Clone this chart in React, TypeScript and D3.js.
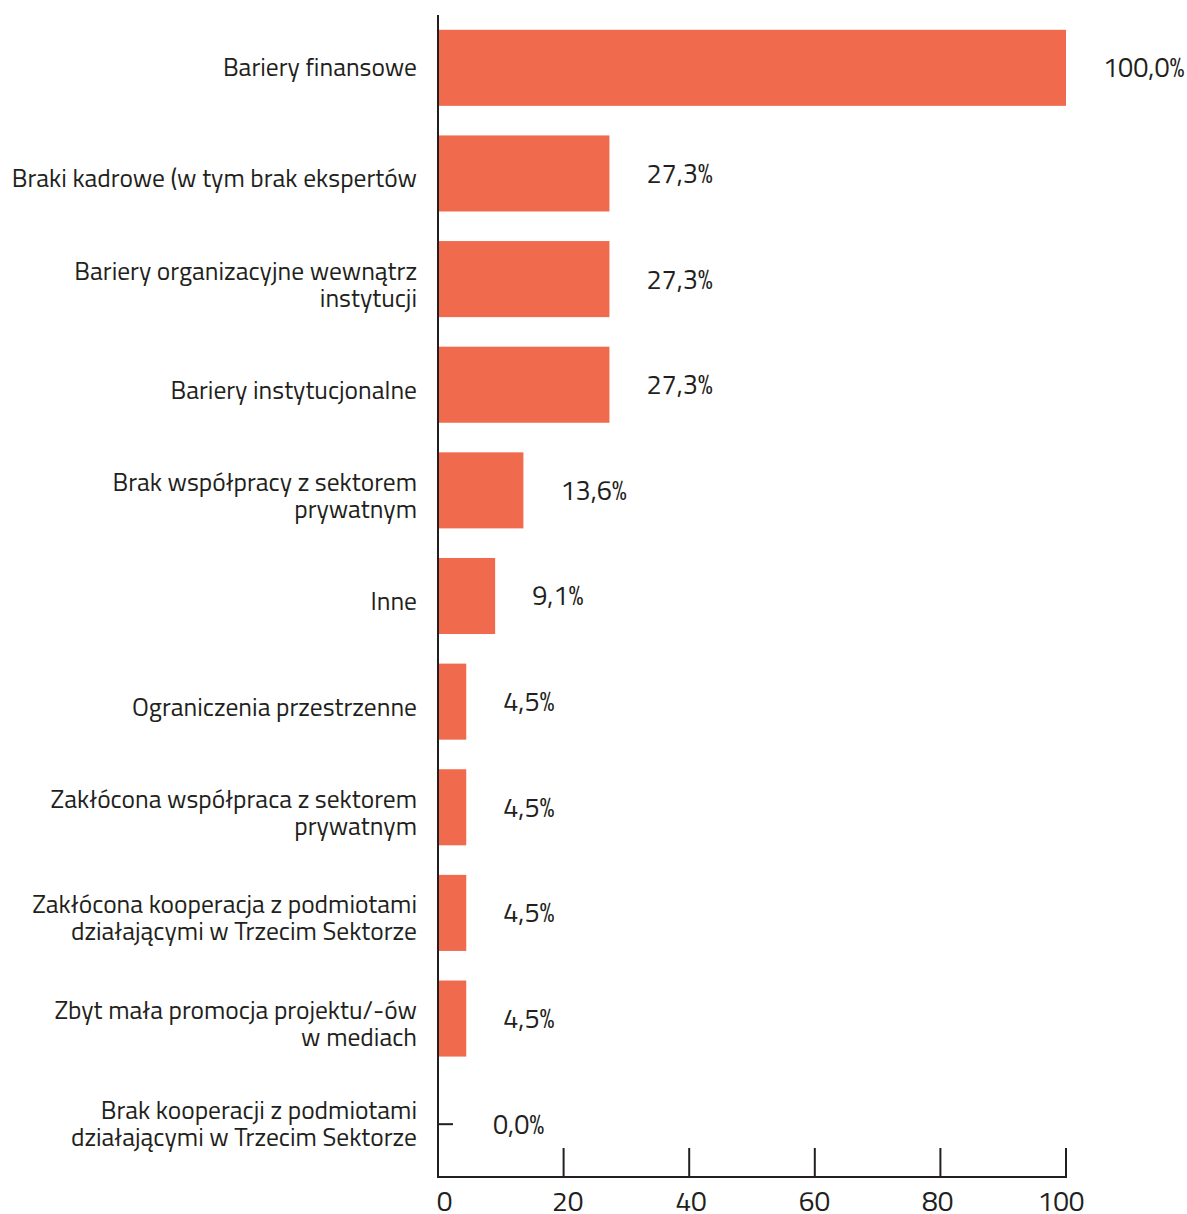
import * as d3 from "d3";

const categories: string[][] = [
  ["Bariery finansowe"],
  ["Braki kadrowe (w tym brak ekspertów"],
  ["Bariery organizacyjne wewnątrz", "instytucji"],
  ["Bariery instytucjonalne"],
  ["Brak współpracy z sektorem", "prywatnym"],
  ["Inne"],
  ["Ograniczenia przestrzenne"],
  ["Zakłócona współpraca z sektorem", "prywatnym"],
  ["Zakłócona kooperacja z podmiotami", "działającymi w Trzecim Sektorze"],
  ["Zbyt mała promocja projektu/-ów", "w mediach"],
  ["Brak kooperacji z podmiotami", "działającymi w Trzecim Sektorze"],
];
const values = [100, 27.3, 27.3, 27.3, 13.6, 9.1, 4.5, 4.5, 4.5, 4.5, 0];
const xTicks = [0, 20, 40, 60, 80, 100];

const W = 1187;
const H = 1214;
const FONT = "'Titillium Web', 'Noto Sans', 'Open Sans', sans-serif";
const INK = "#231f20";
const BAR = "#f06b4e";

export default function App() {
  const x = d3.scaleLinear().domain([0, 100]).range([438, 1066]);
  // tick labels sit slightly inside the tick span
  const xLabel = d3.scaleLinear().domain([0, 100]).range([444.5, 1061]);
  const y = d3
    .scaleBand<number>()
    .domain(d3.range(categories.length))
    .range([15, 1177])
    .paddingInner(0.28)
    .paddingOuter(0.14);
  const fmt = (v: number) => v.toFixed(1).replace(".", ",") + "%";
  const lineH = 27;
  const last = categories.length - 1;

  return (
    <svg
      width={W}
      height={H}
      style={{ position: "absolute", left: 0, top: 0, background: "#fff" }}
      fontFamily={FONT}
    >
      {values.map((v, i) => {
        const cy = y(i)! + y.bandwidth() / 2;
        const ly = cy + (i > 0 && i < last ? 6 : 0);
        return (
          <g key={i}>
            {v > 0 ? (
              <rect x={x(0)} y={y(i)} width={x(v) - x(0)} height={y.bandwidth()} fill={BAR} />
            ) : (
              <line x1={x(0)} x2={x(0) + 15} y1={cy} y2={cy} stroke={INK} strokeWidth={2} />
            )}
            <text
              x={x(v) + (v > 0 ? 37 : 55)}
              y={cy}
              dy="0.35em"
              fontSize={27}
              fill={INK}
            >
              {fmt(v)}
            </text>
            <text x={417} y={ly} textAnchor="end" fontSize={25.5} fill={INK}>
              {categories[i].map((line, j) => (
                <tspan
                  key={j}
                  x={417}
                  dy={j === 0 ? (-(categories[i].length - 1) * lineH) / 2 + 8 : lineH}
                >
                  {line}
                </tspan>
              ))}
            </text>
          </g>
        );
      })}
      {/* axes */}
      <line x1={x(0)} x2={x(0)} y1={15} y2={1178} stroke={INK} strokeWidth={2} />
      <line x1={x(0) - 1} x2={x(100) + 1} y1={1177} y2={1177} stroke={INK} strokeWidth={2} />
      {xTicks.map((t) => (
        <g key={t}>
          <line x1={x(t)} x2={x(t)} y1={1148} y2={1177} stroke={INK} strokeWidth={2} />
          <text x={xLabel(t)} y={1211} textAnchor="middle" fontSize={28} fill={INK}>
            {t}
          </text>
        </g>
      ))}
    </svg>
  );
}
